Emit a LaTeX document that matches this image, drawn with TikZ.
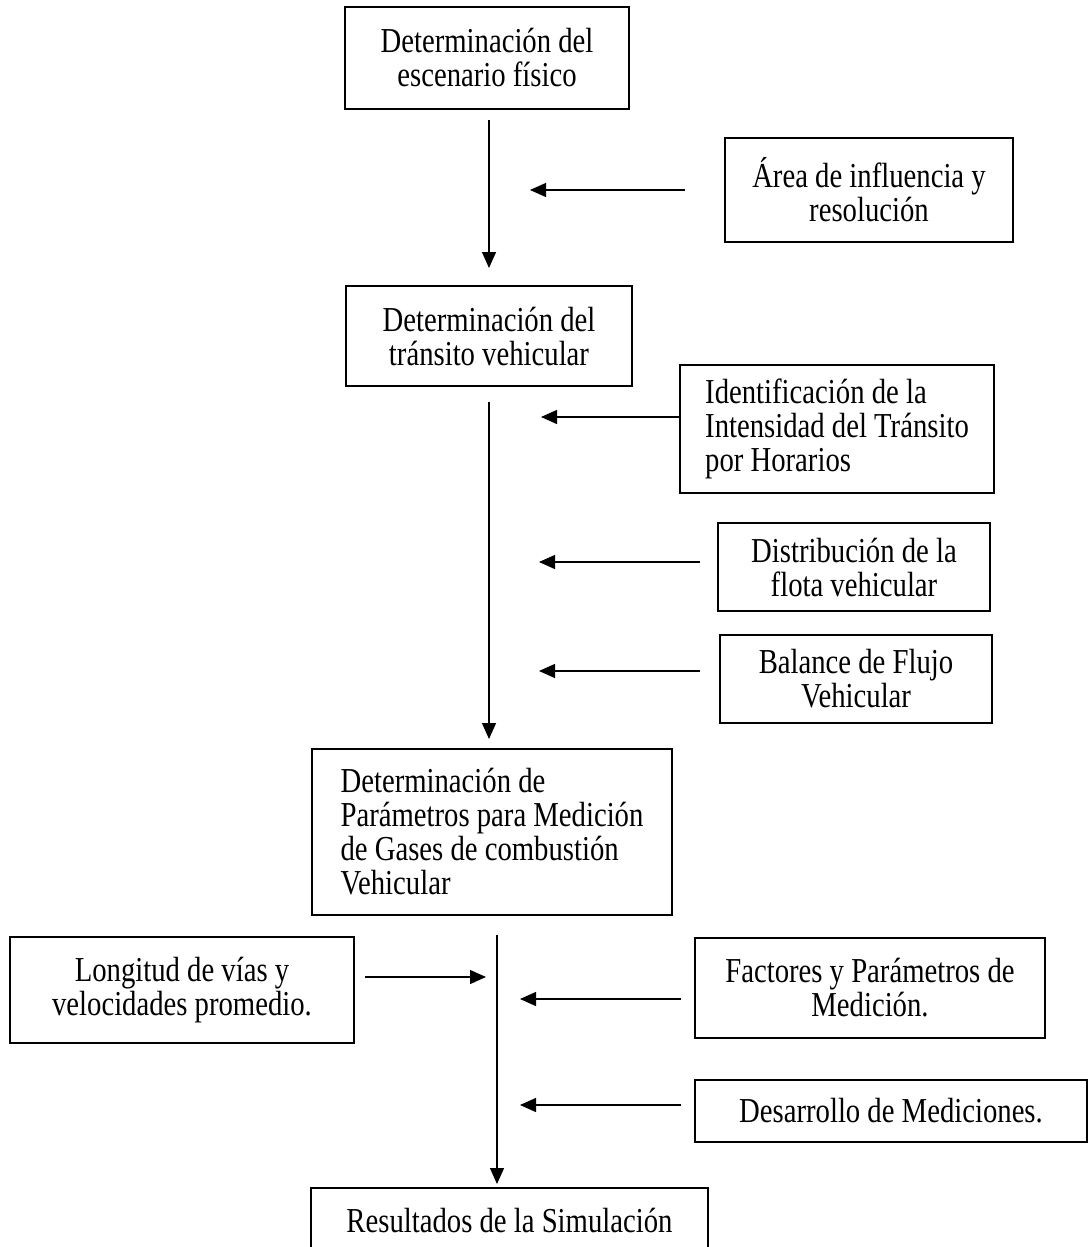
\documentclass[tikz,border=0pt]{standalone}
\usepackage{fontspec}
\setmainfont{Liberation Serif}[FakeStretch=0.82]
\usetikzlibrary{arrows.meta}

\begin{document}
\begin{tikzpicture}[
    x=1pt, y=-1pt,
    >={Triangle[length=16pt,width=14pt]},
    line width=1.3pt,
    font=\fontsize{35}{34}\selectfont,
    box/.style={draw, inner sep=0pt, align=center},
    arr/.style={->}
]
    \useasboundingbox (0,0) rectangle (1089,1247);

    % Grid alignment (1pt = 1px of the page):
    % Main column at x = 489 / 497
    % Input boxes on the right at x = 680 .. 1090

    % 1. Main column
    \node[box, minimum width=284pt, minimum height=102pt] (escenario) at (487,58) {Determinación del\\escenario físico};
    \node[box, minimum width=286pt, minimum height=100pt] (transito) at (489,336) {Determinación del\\tránsito vehicular};
    \node[box, align=left, minimum width=360pt, minimum height=166pt] (parametros) at (492,832) {Determinación de\\Parámetros para Medición\\de Gases de combustión\\Vehicular};
    \node[box, minimum width=397pt, minimum height=64pt] (resultados) at (509.5,1220) {Resultados de la Simulación};

    % 2. Side inputs
    \node[box, minimum width=288pt, minimum height=104pt] (area) at (869,190) {Área de influencia y\\resolución};
    \node[box, align=left, minimum width=314pt, minimum height=128pt] (ident) at (837,429) {Identificación de la\\Intensidad del Tránsito\\por Horarios};
    \node[box, minimum width=272pt, minimum height=88pt] (flota) at (854,567) {Distribución de la\\flota vehicular};
    \node[box, minimum width=272pt, minimum height=88pt] (balance) at (856,679) {Balance de Flujo\\Vehicular};
    \node[box, minimum width=344pt, minimum height=106pt] (longitud) at (182,990) {Longitud de vías y\\velocidades promedio.};
    \node[box, minimum width=350pt, minimum height=100pt] (factores) at (870,988) {Factores y Parámetros de\\Medición.};
    \node[box, minimum width=392pt, minimum height=62pt] (desarrollo) at (891,1111) {Desarrollo de Mediciones.};

    % 3. Arrow end points
    \coordinate (v1a) at (489,120);   \coordinate (v1b) at (489,268);
    \coordinate (v2a) at (489,402);   \coordinate (v2b) at (489,739);
    \coordinate (v3a) at (497,935);   \coordinate (v3b) at (497,1184);
    \coordinate (areaA) at (685,190);  \coordinate (areaB) at (530,190);
    \coordinate (identA) at (680,417); \coordinate (identB) at (541,417);
    \coordinate (flotaA) at (700,562); \coordinate (flotaB) at (539,562);
    \coordinate (balA) at (700,671);   \coordinate (balB) at (539,671);
    \coordinate (longA) at (365,977);  \coordinate (longB) at (486,977);
    \coordinate (factA) at (681,999);  \coordinate (factB) at (520,999);
    \coordinate (desA) at (681,1105);  \coordinate (desB) at (520,1105);

    % 4. Main flow
    \draw[arr] (v1a) -- (v1b);
    \draw[arr] (v2a) -- (v2b);
    \draw[arr] (v3a) -- (v3b);

    % 5. Inputs into the main flow
    \draw[arr] (areaA) -- (areaB);
    \draw[arr] (identA) -- (identB);
    \draw[arr] (flotaA) -- (flotaB);
    \draw[arr] (balA) -- (balB);
    \draw[arr] (longA) -- (longB);
    \draw[arr] (factA) -- (factB);
    \draw[arr] (desA) -- (desB);

\end{tikzpicture}
\end{document}
